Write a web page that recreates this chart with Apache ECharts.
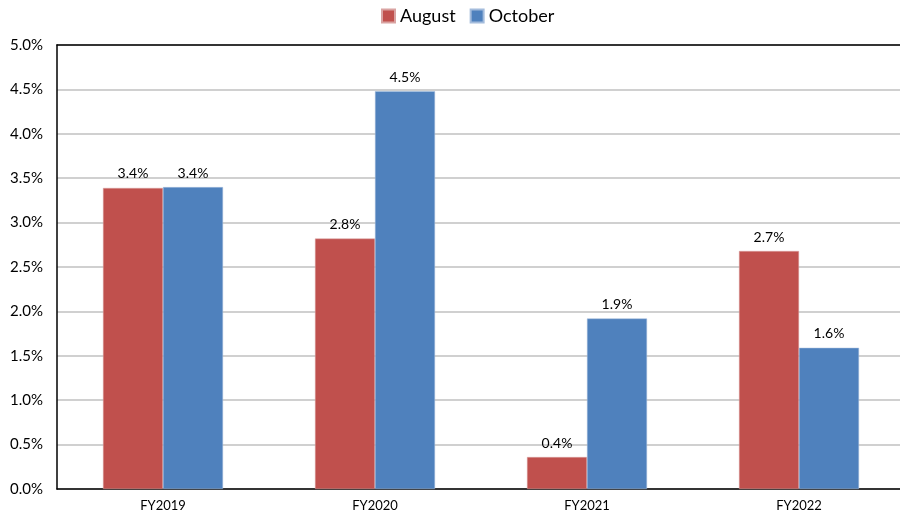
<!DOCTYPE html>
<html>
<head>
<meta charset="utf-8">
<script src="https://cdn.jsdelivr.net/npm/echarts@6/dist/echarts.min.js"></script>
<style>
  html, body { margin: 0; padding: 0; background: #fff; }
  #chart { width: 900px; height: 514px; }
</style>
</head>
<body>
<div id="chart"></div>
<script>
const categories = ['FY2019', 'FY2020', 'FY2021', 'FY2022']
const august = [3.39, 2.82, 0.36, 2.68]
const october = [3.40, 4.48, 1.92, 1.59]
const yTicks = ['0.0%', '0.5%', '1.0%', '1.5%', '2.0%', '2.5%', '3.0%', '3.5%', '4.0%', '4.5%', '5.0%']

const font = 'Lato, "DejaVu Sans", sans-serif'

const chart = echarts.init(document.getElementById('chart'))

const barLabel = {
  show: true,
  position: 'top',
  distance: 7,
  color: '#000',
  fontFamily: font,
  fontSize: 14,
  formatter: (p) => p.value.toFixed(1) + '%',
}

chart.setOption({
  animation: false,
  legend: {
    top: 2,
    left: 376,
    icon: 'rect',
    itemWidth: 13,
    itemHeight: 13,
    itemGap: 14,
    textStyle: { fontFamily: font, fontSize: 18, color: '#000' },
    data: ['August', 'October'],
  },
  grid: {
    left: 57,
    width: 848,
    top: 45,
    bottom: 25,
    outerBoundsMode: 'none',
  },
  xAxis: [
    {
      type: 'category',
      data: categories,
      axisLine: { lineStyle: { color: '#000', width: 1.5 } },
      axisTick: { show: false },
      axisLabel: { color: '#000', fontFamily: font, fontSize: 13, margin: 10 },
    },
    {
      type: 'category',
      position: 'top',
      data: categories,
      axisLine: { lineStyle: { color: '#000', width: 1.5 } },
      axisTick: { show: false },
      axisLabel: { show: false },
    },
  ],
  yAxis: {
    type: 'value',
    min: 0,
    max: 5,
    interval: 0.5,
    axisLine: { show: true, lineStyle: { color: '#000', width: 1.5 } },
    axisTick: { show: false },
    splitLine: { lineStyle: { color: '#c0c0c0', width: 1.5 } },
    axisLabel: {
      color: '#000',
      fontFamily: font,
      fontSize: 15,
      margin: 14,
      formatter: (v) => yTicks[Math.round(v * 2)],
    },
  },
  series: [
    {
      name: 'August',
      type: 'bar',
      data: august,
      barWidth: 60,
      barGap: '0%',
      itemStyle: { color: '#C0504D', borderColor: '#d9a3a2', borderWidth: 0.5 },
      label: barLabel,
    },
    {
      name: 'October',
      type: 'bar',
      data: october,
      barWidth: 60,
      itemStyle: { color: '#4F81BD', borderColor: '#a4bcdc', borderWidth: 0.5 },
      label: barLabel,
    },
  ],
})
</script>
</body>
</html>
